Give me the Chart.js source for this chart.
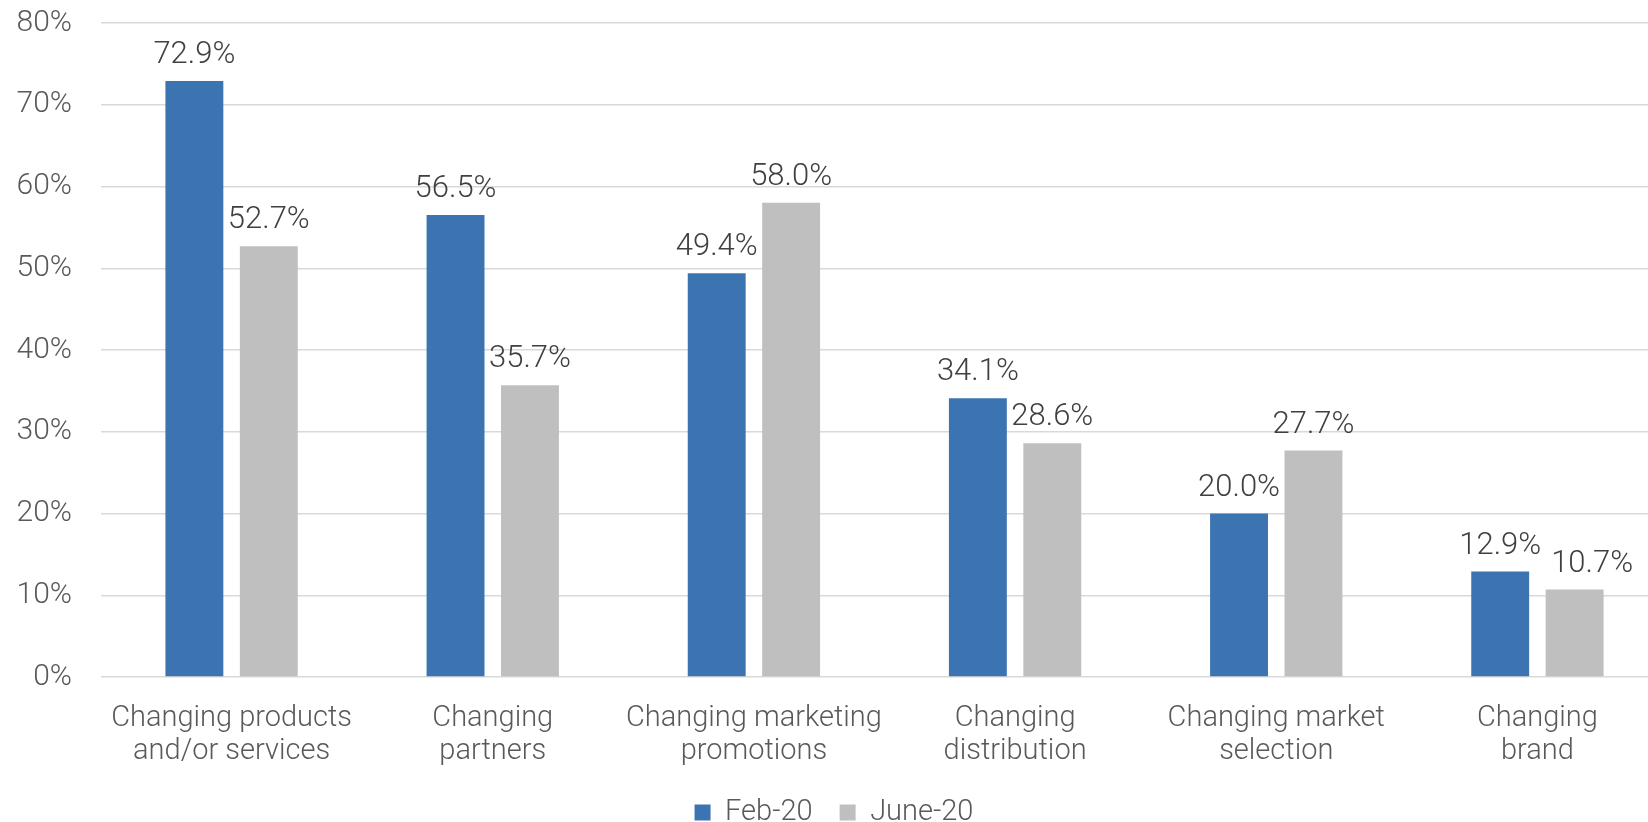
<!DOCTYPE html>
<html>
<head>
<meta charset="utf-8">
<script src="https://cdn.jsdelivr.net/npm/chart.js@4/dist/chart.umd.min.js"></script>
<style>
  html, body { margin: 0; padding: 0; background: #fff; overflow: hidden; }
  /* plot area runs a little past the right edge, as in the original */
  #wrap { width: 1648px; height: 822px; overflow: hidden; }
  canvas { display: block; }
</style>
</head>
<body>
<div id="wrap"><canvas id="myChart" width="1668" height="822"></canvas></div>
<script>
const categories = [
  ['Changing products', 'and/or services'],
  ['Changing', 'partners'],
  ['Changing marketing', 'promotions'],
  ['Changing', 'distribution'],
  ['Changing market', 'selection'],
  ['Changing', 'brand']
];
const feb20 = [72.9, 56.5, 49.4, 34.1, 20.0, 12.9];
const june20 = [52.7, 35.7, 58.0, 28.6, 27.7, 10.7];
const seriesNames = ['Feb-20', 'June-20'];

const FONT = 'Roboto, "Liberation Sans", sans-serif';

// draws the value above each bar, nudging a label right if it would overlap its neighbour
const valueLabels = {
  id: 'valueLabels',
  afterDatasetsDraw(chart) {
    const ctx = chart.ctx;
    ctx.save();
    ctx.font = '300 31px ' + FONT;
    ctx.fillStyle = '#404040';
    ctx.textAlign = 'left';
    ctx.textBaseline = 'alphabetic';
    const placed = [];
    chart.data.labels.forEach((_, j) => {
      let prev = null;
      chart.data.datasets.forEach((ds, i) => {
        const bar = chart.getDatasetMeta(i).data[j];
        const txt = ds.data[j].toFixed(1) + '%';
        const w = ctx.measureText(txt).width;
        let x = bar.x - w / 2;
        const y = bar.y - 18;
        if (prev && Math.abs(prev.y - y) < 26 && x < prev.right + 10) {
          x = prev.right + 10;
        }
        ctx.fillText(txt, x, y);
        prev = { right: x + w, y: y };
      });
    });
    ctx.restore();
  }
};

Chart.defaults.font.family = FONT;
Chart.defaults.font.weight = 300;
Chart.defaults.color = '#595959';

new Chart(document.getElementById('myChart'), {
  type: 'bar',
  data: {
    labels: categories,
    datasets: [
      { label: seriesNames[0], data: feb20, backgroundColor: '#3B74B1' },
      { label: seriesNames[1], data: june20, backgroundColor: '#BFBFBF' }
    ]
  },
  options: {
    responsive: false,
    animation: false,
    layout: { padding: { top: 23, right: 0, bottom: -15, left: 0 } },
    categoryPercentage: 0.57,
    barPercentage: 0.778,
    plugins: {
      legend: {
        position: 'bottom',
        labels: {
          boxWidth: 16,
          boxHeight: 16,
          padding: 27,
          font: { size: 29, weight: 300 },
          color: '#595959'
        }
      },
      tooltip: { enabled: false }
    },
    scales: {
      x: {
        afterFit(scale) {
          scale.height = 94;
          scale.paddingLeft = 0;
          scale.paddingRight = 0;
        },
        grid: { display: false },
        border: { display: false },
        ticks: {
          font: { size: 29, weight: 300, lineHeight: 1.12 },
          color: '#595959',
          maxRotation: 0,
          autoSkip: false,
          padding: 18
        }
      },
      y: {
        min: 0,
        max: 80,
        afterFit(scale) {
          scale.width = 101;
          scale.paddingTop = 0;
          scale.paddingBottom = 0;
        },
        grid: { color: '#D9D9D9', lineWidth: 1.5, drawTicks: false },
        border: { display: false },
        ticks: {
          stepSize: 10,
          padding: 29,
          font: { size: 30, weight: 300 },
          color: '#595959',
          callback: v => v + '%'
        }
      }
    }
  },
  plugins: [valueLabels]
});
</script>
</body>
</html>
